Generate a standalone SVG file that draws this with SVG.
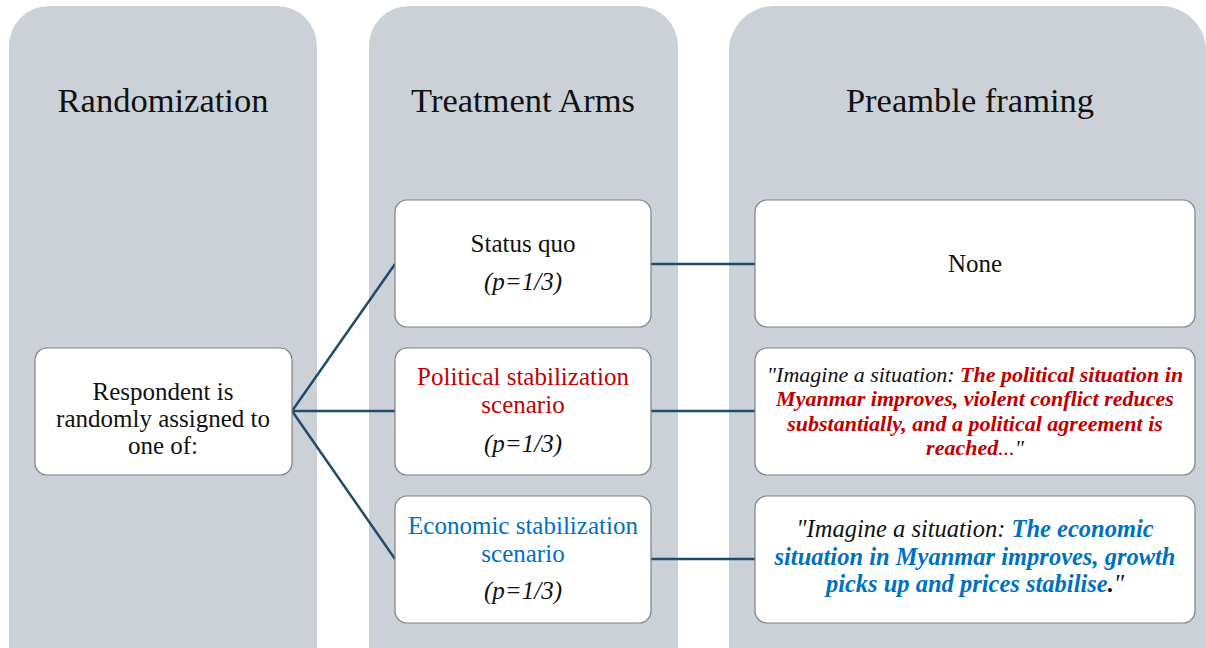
<svg xmlns="http://www.w3.org/2000/svg" width="1206" height="648" viewBox="0 0 1206 648">
<style>
.panel{fill:#CCD1D8;}
.box{fill:#FFFFFF;stroke:#808080;stroke-width:1.2;}
.title{font-family:"Liberation Serif","DejaVu Serif",serif;font-size:34.5px;fill:#111;text-anchor:middle;}
.t{font-family:"Liberation Serif","DejaVu Serif",serif;font-size:25px;fill:#111;text-anchor:middle;}
.it{font-style:italic;}
.q{font-family:"Liberation Serif","DejaVu Serif",serif;font-size:22px;font-style:italic;fill:#111;text-anchor:middle;}
.q2{font-size:24.5px;}
.b{font-weight:bold;}
.red{fill:#C00000;}
.blue{fill:#0070C0;}
.conn{stroke:#1F4E6B;stroke-width:2.5;fill:none;}
</style>
<rect width="1206" height="648" fill="#FFFFFF"/>
<g id="panel-randomization">
<rect class="panel" x="9" y="6" width="308" height="700" rx="40"/>
<text class="title" x="163" y="112">Randomization</text>
</g>
<g id="panel-treatment">
<rect class="panel" x="369" y="6" width="309" height="700" rx="40"/>
<text class="title" x="523" y="112">Treatment Arms</text>
</g>
<g id="panel-preamble">
<rect class="panel" x="729" y="6" width="477" height="700" rx="45"/>
<text class="title" x="970" y="112">Preamble framing</text>
</g>
<g id="connectors">
<path class="conn" d="M292 411 L395 264 M292 411 L395 411 M292 411 L395 559"/>
<path class="conn" d="M651 264 L755 264 M651 411 L755 411 M651 559 L755 559"/>
</g>
<g id="node-respondent">
<rect class="box" x="35" y="348" width="257" height="127" rx="12"/>
<text class="t" x="163" y="400">Respondent is</text>
<text class="t" x="163" y="427">randomly assigned to</text>
<text class="t" x="163" y="454">one of:</text>
</g>
<g id="node-statusquo">
<rect class="box" x="395" y="200" width="256" height="127" rx="12"/>
<text class="t" x="523" y="252">Status quo</text>
<text class="t it" x="523" y="290">(p=1/3)</text>
</g>
<g id="node-political">
<rect class="box" x="395" y="348" width="256" height="127" rx="12"/>
<text class="t red" x="523" y="385">Political stabilization</text>
<text class="t red" x="523" y="413">scenario</text>
<text class="t it" x="523" y="452">(p=1/3)</text>
</g>
<g id="node-economic">
<rect class="box" x="395" y="496" width="256" height="127" rx="12"/>
<text class="t blue" x="523" y="534">Economic stabilization</text>
<text class="t blue" x="523" y="562">scenario</text>
<text class="t it" x="523" y="599">(p=1/3)</text>
</g>
<g id="node-none">
<rect class="box" x="755" y="200" width="440" height="127" rx="12"/>
<text class="t" x="975" y="272">None</text>
</g>
<g id="node-political-preamble">
<rect class="box" x="755" y="348" width="440" height="127" rx="12"/>
<text class="q" x="975" y="382">"Imagine a situation: <tspan class="b red">The political situation in</tspan></text>
<text class="q b red" x="975" y="406">Myanmar improves, violent conflict reduces</text>
<text class="q b red" x="975" y="431">substantially, and a political agreement is</text>
<text class="q" x="975" y="455"><tspan class="b red">reached</tspan><tspan class="red">...</tspan>"</text>
</g>
<g id="node-economic-preamble">
<rect class="box" x="755" y="496" width="440" height="127" rx="12"/>
<text class="q q2" x="975" y="537">"Imagine a situation: <tspan class="b blue">The economic</tspan></text>
<text class="q q2 b blue" x="975" y="565">situation in Myanmar improves, growth</text>
<text class="q q2" x="975" y="592"><tspan class="b blue">picks up and prices stabilise</tspan><tspan class="b">.</tspan>"</text>
</g>
</svg>
